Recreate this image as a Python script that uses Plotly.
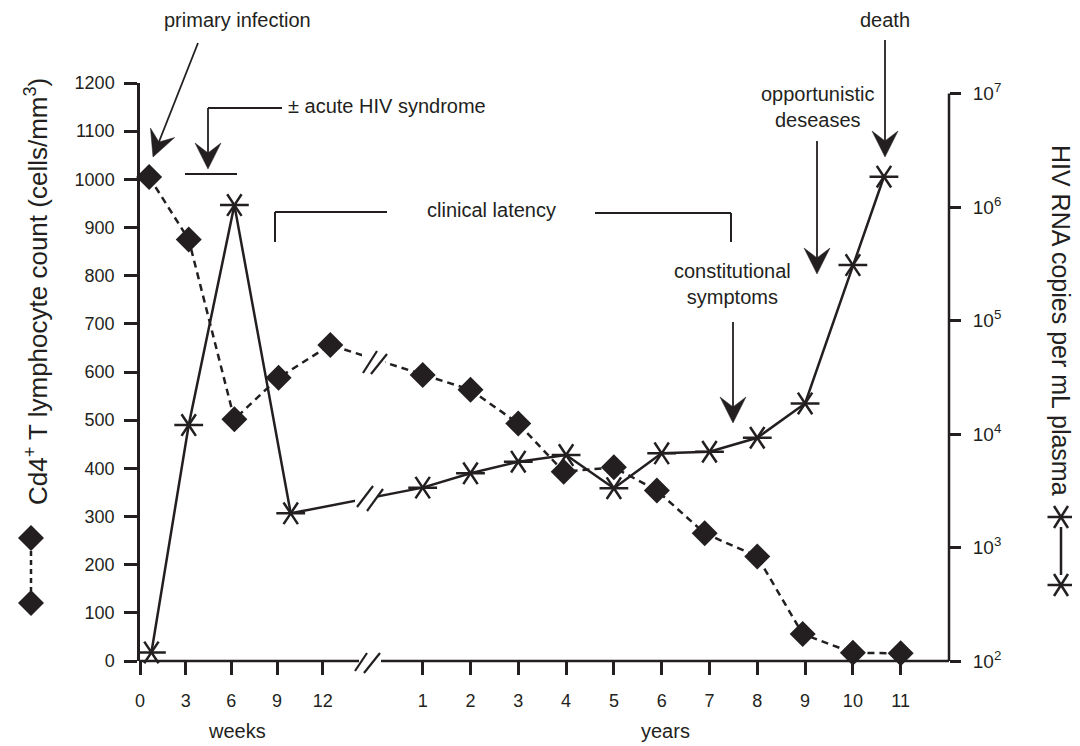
import math
import plotly.graph_objects as go

# ---------------- data ----------------
WEEK_TICKS = [0, 3, 6, 9, 12]
YEAR_TICKS = [1, 2, 3, 4, 5, 6, 7, 8, 9, 10, 11]
CD4_TICKS = list(range(0, 1300, 100))
RNA_TICK_EXP = [2, 3, 4, 5, 6, 7]

# CD4+ T lymphocyte count (cells/mm3), left axis
cd4_weeks = [0.6, 3.2, 6.2, 9.1, 12.5]
cd4_weeks_val = [1005, 875, 502, 588, 656]
cd4_years = [1, 2, 3, 3.95, 5, 5.9, 6.9, 8, 8.95, 10, 11]
cd4_years_val = [594, 563, 493, 393, 402, 354, 265, 217, 56, 17, 16]

# HIV RNA copies per mL plasma, right (log) axis
rna_weeks = [0.75, 3.2, 6.2, 9.9]
rna_weeks_val = [119, 12000, 1040000, 2000]
rna_years = [1, 2, 3, 4, 5, 6, 7, 8, 9, 10, 10.65]
rna_years_val = [3370, 4510, 5700, 6530, 3330, 6760, 6980, 9270, 18600, 308000, 1850000]

# ---------------- scale helpers ----------------
INK = "#231f20"
FONT = "Liberation Sans, Arial, sans-serif"
PAGE_W, PAGE_H = 1080, 746
BODY = 8                                # default html body margin
W, H = PAGE_W - BODY, PAGE_H - BODY
L, R, T, B = 140, 949, 83, 661          # plot area in page pixels
X_MAX = 16.925                          # axis units (one year step = 1 unit)
WEEK_SCALE = 0.3185                     # axis units per week
YEAR_OFFSET = 4.914                     # axis position of "year 0"
RNA_RANGE = [2, 7.093]


def wpos(w):
    return w * WEEK_SCALE


def ypos(y):
    return YEAR_OFFSET + y


def P(x, y):
    """page pixel -> paper coordinates"""
    return (x - L) / (R - L), (B - y) / (B - T)


cd4_x = [wpos(w) for w in cd4_weeks] + [ypos(y) for y in cd4_years]
cd4_y = cd4_weeks_val + cd4_years_val
rna_x = [wpos(w) for w in rna_weeks] + [ypos(y) for y in rna_years]
rna_y = rna_weeks_val + rna_years_val

fig = go.Figure()

# CD4 dashed line with diamonds
fig.add_trace(go.Scatter(
    x=cd4_x, y=cd4_y, mode="lines+markers", yaxis="y",
    line=dict(color=INK, width=2.5, dash="7px,5px"),
    marker=dict(symbol="diamond", size=20, color=INK),
    cliponaxis=False, hoverinfo="skip"))

# RNA solid line with 6-spoke asterisks (y-left + y-right)
fig.add_trace(go.Scatter(
    x=rna_x, y=rna_y, mode="lines+markers", yaxis="y2",
    line=dict(color=INK, width=2.5),
    marker=dict(symbol="y-left-open", size=18, color=INK, line=dict(width=2.5, color=INK)),
    cliponaxis=False, hoverinfo="skip"))
fig.add_trace(go.Scatter(
    x=rna_x, y=rna_y, mode="markers", yaxis="y2",
    marker=dict(symbol="y-right-open", size=18, color=INK, line=dict(width=2.5, color=INK)),
    cliponaxis=False, hoverinfo="skip"))

shapes = []


def seg(x0, y0, x1, y1, width=2.5, dash="solid"):
    a, b = P(x0, y0)
    c, d = P(x1, y1)
    shapes.append(dict(type="line", xref="paper", yref="paper", x0=a, y0=b, x1=c, y1=d,
                       line=dict(color=INK, width=width, dash=dash)))


def white(x0, y0, x1, y1):
    a, b = P(x0, y0)
    c, d = P(x1, y1)
    shapes.append(dict(type="rect", xref="paper", yref="paper", x0=a, y0=b, x1=c, y1=d,
                       line=dict(width=0), fillcolor="white"))


def path(points, closed=True, fill=True, width=0):
    parts = []
    for i, (x, y) in enumerate(points):
        a, b = P(x, y)
        parts.append(("M" if i == 0 else "L") + "%.5f,%.5f" % (a, b))
    d = " ".join(parts) + (" Z" if closed else "")
    shapes.append(dict(type="path", xref="paper", yref="paper", path=d,
                       fillcolor=INK if fill else "rgba(0,0,0,0)",
                       line=dict(color=INK, width=width)))


def diamond_sym(cx, cy, r=13):
    path([(cx - r, cy), (cx, cy - r), (cx + r, cy), (cx, cy + r)])


def asterisk_sym(cx, cy):
    seg(cx - 13.5, cy, cx + 13.5, cy, 2.5)
    seg(cx - 7, cy - 11, cx + 7, cy + 11, 2.5)
    seg(cx - 7, cy + 11, cx + 7, cy - 11, 2.5)


def arrow(tx, ty, sx, sy, head_len=26, head_w=26):
    dx, dy = tx - sx, ty - sy
    n = math.hypot(dx, dy)
    ux, uy = dx / n, dy / n
    px_, py_ = -uy, ux
    bx, by = tx - ux * head_len, ty - uy * head_len
    nx, ny = tx - ux * head_len * 0.62, ty - uy * head_len * 0.62
    seg(sx, sy, nx, ny, 1.8)
    path([(tx, ty),
          (bx + px_ * head_w / 2, by + py_ * head_w / 2),
          (nx, ny),
          (bx - px_ * head_w / 2, by - py_ * head_w / 2)], width=0.5)


# x axis with break
seg(L - 1, B, 359, B, 2.5)
seg(381, B, R, B, 2.5)
seg(355, 671, 367, 653, 2.2)
seg(364, 673, 380, 653, 2.2)
# right axis line (10^2 .. 10^7)
shapes.append(dict(type="line", xref="paper", yref="paper", x0=1, x1=1, y0=0,
                   y1=(7 - RNA_RANGE[0]) / (RNA_RANGE[1] - RNA_RANGE[0]),
                   line=dict(color=INK, width=2.5)))
# breaks on the data lines
white(355, 491, 377, 507)
seg(357, 507, 373, 486, 2.2)
seg(367, 511, 383, 489, 2.2)
white(362, 350, 385, 368)
seg(363, 373, 377, 351, 2.2)
seg(371, 374, 387, 354, 2.2)
# acute HIV syndrome bracket
seg(208, 108, 282, 108, 2)
seg(185, 174, 237, 174, 2.2)
# clinical latency bracket
seg(275, 242, 275, 212, 2)
seg(275, 212, 387, 212, 2)
seg(595, 213, 731, 213, 2)
seg(731, 213, 731, 242, 2)
# legend symbols beside the axis titles
seg(31, 551, 31, 591, 2.5, "5px,4px")
diamond_sym(31, 538)
diamond_sym(31, 603)
seg(1061, 527, 1061, 575, 2.5)
asterisk_sym(1061, 517)
asterisk_sym(1061, 585)
# arrows
arrow(153, 157, 198, 43)
arrow(208, 169, 208, 108)
arrow(733, 423, 733, 322)
arrow(817, 274, 817, 141)
arrow(885, 157, 885, 40)

annotations = []


def text(x, y, s, size=20, **kw):
    a, b = P(x, y)
    d = dict(x=a, y=b, xref="paper", yref="paper", text=s, showarrow=False,
             font=dict(family=FONT, size=size, color=INK), xanchor="center", yanchor="middle")
    d.update(kw)
    annotations.append(d)


text(237, 20, "primary infection")
text(286, 106, "± acute HIV syndrome", xanchor="left")
text(491, 210, "clinical latency")
text(732, 284, "constitutional<br>symptoms")
text(817, 107, "opportunistic<br>deseases")
text(885, 20, "death")
text(237, 731, "weeks", size=20)
text(665, 731, "years", size=20)
text(36, 292, "Cd4<sup>+</sup> T lymphocyte count (cells/mm<sup>3</sup>)", size=26, textangle=-90)
text(1061, 320, "HIV RNA copies per mL plasma", size=25, textangle=90)

fig.update_layout(
    width=W, height=H,
    margin=dict(l=L - BODY, r=W - (R - BODY), t=T - BODY, b=H - (B - BODY), pad=0),
    plot_bgcolor="white", paper_bgcolor="white", showlegend=False,
    font=dict(family=FONT, color=INK, size=18),
    shapes=shapes, annotations=annotations,
    xaxis=dict(range=[0, X_MAX], showline=False, showgrid=False, zeroline=False,
               tickvals=[wpos(w) for w in WEEK_TICKS] + [ypos(y) for y in YEAR_TICKS],
               ticktext=[str(w) for w in WEEK_TICKS] + [str(y) for y in YEAR_TICKS],
               ticks="outside", ticklen=13, tickwidth=2.5, tickcolor=INK,
               tickfont=dict(size=18, family=FONT, color=INK), ticklabelstandoff=10),
    yaxis=dict(range=[0, 1200], showline=True, linewidth=2.5, linecolor=INK,
               showgrid=False, zeroline=False, tickvals=CD4_TICKS,
               ticks="outside", ticklen=13, tickwidth=2.5, tickcolor=INK,
               tickfont=dict(size=18, family=FONT, color=INK), ticklabelstandoff=6),
    yaxis2=dict(type="log", range=RNA_RANGE, overlaying="y", side="right",
                showline=False, showgrid=False, zeroline=False,
                tickvals=[10 ** e for e in RNA_TICK_EXP],
                ticktext=["10<sup>%d</sup>" % e for e in RNA_TICK_EXP],
                ticks="outside", ticklen=11, tickwidth=2.5, tickcolor=INK,
                tickfont=dict(size=19, family=FONT, color=INK), ticklabelstandoff=8),
)

fig.write_html("out.html")
